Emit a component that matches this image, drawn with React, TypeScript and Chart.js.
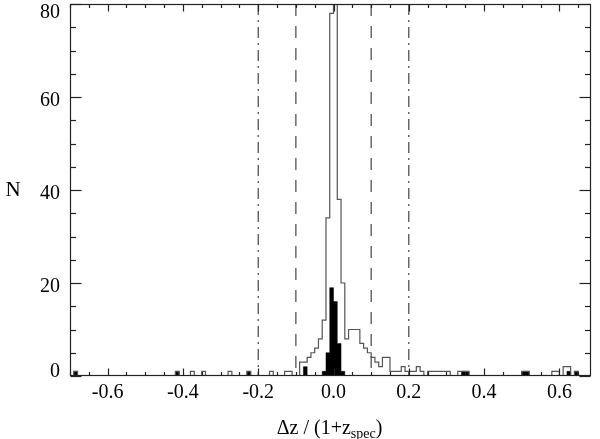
import React, { useEffect, useRef } from 'react';
import { Chart, registerables } from 'chart.js';

Chart.register(...registerables);

// ---- data -------------------------------------------------------------
const BIN_WIDTH = 0.01;
const FIRST_BIN = -70; // bin index k covers [k*0.01, (k+1)*0.01)
const LAST_BIN = 68;

// all objects (open histogram): bin index -> count
const openBins = [
  -69, -42, -38, -35, -28, -23, -17, -13, -12,
  -9, -8, -7, -6, -5, -4, -3, -2, -1, 0, 1, 2, 3, 4, 5, 6, 7, 8, 9, 10,
  11, 12, 13, 14, 15, 16, 17, 18, 19, 20, 21, 22, 23, 25, 26, 27, 28, 29, 30,
  33, 34, 35, 50, 51, 58, 59, 61, 62, 64,
];
const openCounts = [
  1, 1, 1, 1, 1, 1, 1, 1, 1,
  3, 3, 4, 5, 6, 8, 12, 34, 78, 92, 38, 20, 8, 10, 10, 10, 7, 6, 5, 4,
  3, 2, 4, 4, 1, 1, 1, 2, 1, 1, 1, 2, 1, 1, 1, 1, 1, 1, 1,
  1, 1, 1, 1, 1, 1, 1, 2, 2, 1,
];

// subsample (filled black histogram)
const filledBins = [-69, -42, -23, -8, -3, -2, -1, 0, 1, 2, 34, 35, 50, 51, 62, 64];
const filledCounts = [1, 1, 1, 2, 1, 5, 19, 16, 7, 1, 1, 1, 1, 1, 1, 1];

const dashedCuts = [-0.1, 0.1];
const dashDotCuts = [-0.2, 0.2];

const xMajorTicks = [-0.6, -0.4, -0.2, 0.0, 0.2, 0.4, 0.6];
const xMinorStep = 0.05;
const yMajorTicks = [0, 20, 40, 60, 80];
const yMinorStep = 5;

const X_MIN = -0.7;
const X_MAX = 0.684;
const Y_MIN = 0;
const Y_MAX = 80;

const xTitleMain = 'Δz / (1+z';
const xTitleSub = 'spec';
const xTitleEnd = ')';
const yTitle = 'N';

// ---- helpers ----------------------------------------------------------
function stepSeries(bins: number[], counts: number[]) {
  const pts: { x: number; y: number }[] = [];
  for (let k = FIRST_BIN; k <= LAST_BIN; k++) {
    const i = bins.indexOf(k);
    pts.push({ x: k * BIN_WIDTH, y: i >= 0 ? counts[i] : 0 });
  }
  pts.push({ x: (LAST_BIN + 1) * BIN_WIDTH, y: 0 });
  return pts;
}

const SERIF = '"Liberation Serif", "Times New Roman", serif';

const axesPlugin = {
  id: 'frameAxes',
  afterDraw(chart: any) {
    const { ctx, chartArea: a } = chart;
    const xs = chart.scales.x;
    const ys = chart.scales.y;
    ctx.save();
    ctx.strokeStyle = '#222';
    ctx.lineWidth = 1.2;
    const L = Math.round(a.left) + 0.5;
    const R = Math.round(a.right) - 0.5;
    const T = Math.round(a.top) + 0.5;
    const B = Math.round(a.bottom) - 0.5;
    ctx.strokeRect(L, T, R - L, B - T);

    const seg = (x1: number, y1: number, x2: number, y2: number) => {
      ctx.beginPath();
      ctx.moveTo(x1, y1);
      ctx.lineTo(x2, y2);
      ctx.stroke();
    };

    // y ticks (left & right)
    for (let v = Y_MIN; v <= Y_MAX; v += yMinorStep) {
      const py = Math.round(ys.getPixelForValue(v)) + 0.5;
      const len = yMajorTicks.includes(v) ? 11 : 5.5;
      seg(L, py, L + len, py);
      seg(R, py, R - len, py);
    }
    // x ticks (bottom & top)
    const i0 = Math.ceil(X_MIN / xMinorStep - 1e-9);
    const i1 = Math.floor(X_MAX / xMinorStep + 1e-9);
    for (let i = i0; i <= i1; i++) {
      const v = i * xMinorStep;
      const major = xMajorTicks.some((t) => Math.abs(t - v) < 1e-9);
      const px = Math.round(xs.getPixelForValue(v)) + 0.5;
      const len = major ? 7 : 3.5;
      seg(px, B, px, B - len);
      seg(px, T, px, T + len);
    }

    // tick labels
    ctx.fillStyle = '#000';
    ctx.font = `20px ${SERIF}`;
    ctx.textBaseline = 'alphabetic';
    ctx.textAlign = 'right';
    for (const v of yMajorTicks) {
      const py = ys.getPixelForValue(v);
      const base = Math.min(Math.max(py + 9, a.top + 14), a.bottom + 1);
      ctx.fillText(String(v), a.left - 10, base);
    }
    ctx.textAlign = 'center';
    for (const v of xMajorTicks) {
      const px = xs.getPixelForValue(v);
      ctx.fillText(v.toFixed(1), px, a.bottom + 22);
    }

    // axis titles
    ctx.textAlign = 'center';
    ctx.font = `21px ${SERIF}`;
    ctx.fillText(yTitle, 13, (a.top + a.bottom) / 2 + 6);

    ctx.textAlign = 'left';
    ctx.font = `20px ${SERIF}`;
    const w1 = ctx.measureText(xTitleMain).width;
    const w3 = ctx.measureText(xTitleEnd).width;
    ctx.font = `14px ${SERIF}`;
    const w2 = ctx.measureText(xTitleSub).width;
    const total = w1 + w2 + w3;
    let tx = (a.left + a.right) / 2 - total / 2 - 1;
    const baseMain = a.bottom + 58;
    ctx.font = `20px ${SERIF}`;
    ctx.fillText(xTitleMain, tx, baseMain);
    tx += w1;
    ctx.font = `14px ${SERIF}`;
    ctx.fillText(xTitleSub, tx, baseMain + 4);
    tx += w2;
    ctx.font = `20px ${SERIF}`;
    ctx.fillText(xTitleEnd, tx, baseMain);
    ctx.restore();
  },
};

export default function App() {
  const canvasRef = useRef<HTMLCanvasElement | null>(null);

  useEffect(() => {
    const canvas = canvasRef.current;
    if (!canvas) return;

    const cutLine = (c: number, dash: number[]) => ({
      label: `cut ${c}`,
      data: [
        { x: c, y: Y_MAX },
        { x: c, y: Y_MIN },
      ],
      borderColor: '#444',
      borderWidth: 1.2,
      borderDash: dash,
      pointRadius: 0,
      fill: false,
    });

    const chart = new Chart(canvas, {
      type: 'line',
      data: {
        datasets: [
          {
            label: 'all',
            data: stepSeries(openBins, openCounts),
            stepped: true,
            borderColor: '#555',
            borderWidth: 1.2,
            pointRadius: 0,
            fill: false,
          },
          {
            label: 'subsample',
            data: stepSeries(filledBins, filledCounts),
            stepped: true,
            borderColor: '#000',
            backgroundColor: '#000',
            borderWidth: 0.5,
            pointRadius: 0,
            fill: 'origin',
          },
          ...dashedCuts.map((c) => cutLine(c, [12, 10])),
          ...dashDotCuts.map((c) => cutLine(c, [11, 5, 2, 5])),
        ] as any,
      },
      options: {
        responsive: false,
        animation: false,
        layout: { padding: { left: 70, top: 4, right: 9, bottom: 63 } },
        plugins: {
          legend: { display: false },
          tooltip: { enabled: false },
        },
        elements: { line: { tension: 0 } },
        scales: {
          x: { type: 'linear', min: X_MIN, max: X_MAX, display: false },
          y: { type: 'linear', min: Y_MIN, max: Y_MAX, display: false },
        },
      },
      plugins: [axesPlugin],
    });

    return () => chart.destroy();
  }, []);

  return (
    <div
      style={{
        position: 'fixed',
        left: 0,
        top: 0,
        width: 600,
        height: 439,
        background: '#fff',
      }}
    >
      <canvas ref={canvasRef} width={600} height={439} />
    </div>
  );
}
